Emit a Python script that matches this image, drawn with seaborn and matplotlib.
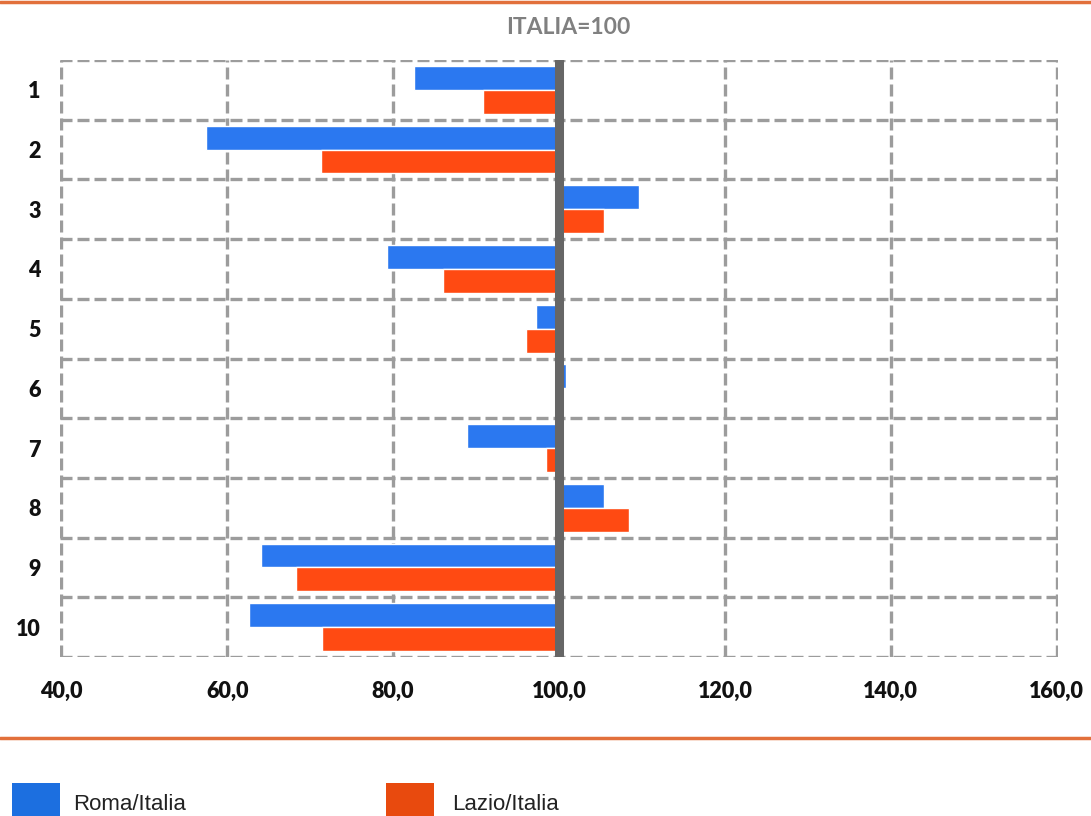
import numpy as np
import pandas as pd
import matplotlib
matplotlib.use("Agg")
import matplotlib.pyplot as plt
from matplotlib.lines import Line2D
from matplotlib.patches import Rectangle
from matplotlib.ticker import FuncFormatter, FixedLocator
import seaborn as sns

# Index values (Italia = 100)
categories = ["1", "2", "3", "4", "5", "6", "7", "8", "9", "10"]
roma = [82.5, 57.5, 109.7, 79.3, 97.2, 100.8, 88.9, 105.4, 64.1, 62.6]
lazio = [90.8, 71.3, 105.4, 86.0, 96.0, 100.3, 98.4, 108.4, 68.3, 71.4]
series_names = ["Roma/Italia", "Lazio/Italia"]
x_ticks = [40, 60, 80, 100, 120, 140, 160]
base = 100

blue = "#2B78F0"
orange = "#FF4A12"
grid_col = "#9C9C9C"

df = pd.DataFrame({
    "cat": categories * 2,
    "serie": [series_names[0]] * len(categories) + [series_names[1]] * len(categories),
    "valore": roma + lazio,
})
# bars grow from the reference level 100
df["scarto"] = df["valore"] - base

sns.set_theme(style="white")
plt.rcParams["font.family"] = ["Lato", "DejaVu Sans"]

W, H = 1091, 816
fig = plt.figure(figsize=(W / 100, H / 100), dpi=100)
ax = fig.add_axes([60 / W, 1 - 657 / H, (1058 - 60) / W, (657 - 60) / H])

sns.barplot(data=df, x="scarto", y="cat", hue="serie", order=categories,
            hue_order=series_names, palette=[blue, orange], orient="h",
            width=0.8, saturation=1, legend=False, ax=ax, zorder=3)

ax.set_xlim(x_ticks[0] - base - 0.15, x_ticks[-1] - base + 0.15)
ax.set_ylim(len(categories) - 0.5, -0.5)
ax.xaxis.set_major_locator(FixedLocator([t - base for t in x_ticks]))
ax.xaxis.set_major_formatter(FuncFormatter(lambda v, p: f"{v + base:.1f}".replace(".", ",")))
ax.set_yticks(np.arange(-0.5, len(categories), 1), minor=True)

dash = (0, (3.6, 1.5))
ax.grid(which="major", axis="x", color=grid_col, lw=2.4, linestyle=dash, zorder=1)
ax.grid(which="minor", axis="y", color=grid_col, lw=2.4, linestyle=dash, zorder=1)
ax.grid(which="major", axis="y", visible=False)
ax.set_axisbelow(True)
for s in ax.spines.values():
    s.set_visible(False)

# reference line at 100
ax.axvline(0, color="#666666", lw=6.5, zorder=4)

ax.tick_params(axis="both", which="both", length=0)
ax.tick_params(axis="y", pad=14)
ax.tick_params(axis="x", pad=17)
for lab in ax.get_xticklabels() + ax.get_yticklabels():
    lab.set_fontweight("heavy")
    lab.set_fontsize(15.5)
    lab.set_color("#111111")
ax.set_xlabel("")
ax.set_ylabel("")

fig.text(568 / W, 1 - 28 / H, "ITALIA=100", ha="center", va="center",
         fontsize=16.5, fontweight="bold", color="#808080",
         family=["Lato", "DejaVu Sans"])

# orange separators
fig.add_artist(Line2D([0, 1], [1 - 1.5 / H] * 2, transform=fig.transFigure,
                      color="#E2703B", lw=2.5))
fig.add_artist(Line2D([0, 1], [1 - 738 / H] * 2, transform=fig.transFigure,
                      color="#E2703B", lw=2.5))

# legend keys and labels along the bottom edge
legend_items = [("#1C6FE0", 12, 73), ("#E84A0E", 386, 452)]
for (col, kx, tx), name in zip(legend_items, series_names):
    fig.add_artist(Rectangle((kx / W, 0), 48 / W, 33 / H, transform=fig.transFigure,
                             facecolor=col, edgecolor="none"))
    fig.text(tx / W, 1 - 804 / H, name, ha="left", va="center", fontsize=16,
             color="#222222", family=["Liberation Sans Narrow", "Liberation Sans"])

fig.savefig("out.png", dpi=100)
